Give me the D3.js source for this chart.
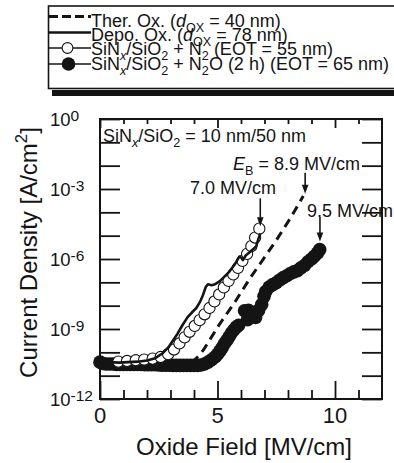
<!DOCTYPE html>
<html>
<head>
<meta charset="utf-8">
<script src="https://cdn.jsdelivr.net/npm/d3@7"></script>
<style>
  html, body { margin: 0; padding: 0; background: #fff; }
  svg { display: block; }
  text { font-family: "Liberation Sans", Arial, Helvetica, sans-serif; fill: #141414; }
</style>
</head>
<body>
<svg id="chart" width="394" height="463"></svg>
<script>
// Oxide field in MV/cm; current density given as log10(J [A/cm^2]).

// Thermal oxide, d_OX = 40 nm (dashed)
const therField = [3.9, 4.25, 4.4, 5.05, 5.75, 6.4, 6.85, 7.5, 8.1, 8.65];
const therLogJ  = [-10.45, -10.1, -9.9, -8.85, -7.83, -6.8, -6.15, -5.2, -4.25, -3.3];

// Deposited oxide, d_OX = 78 nm (solid)
const depoField = [0, 0.4, 0.8, 1.2, 1.6, 2.0, 2.35, 2.65, 2.9, 3.1, 3.3, 3.5, 3.72, 3.95, 4.1, 4.25,
                   4.38, 4.5, 4.6, 4.75, 4.9, 5.1, 5.25, 5.5, 5.72, 5.93, 6.02, 6.08, 6.2, 6.38, 6.55,
                   6.65, 6.72, 6.82];
const depoLogJ  = [-10.45, -10.42, -10.44, -10.42, -10.4, -10.35, -10.25, -10.05, -9.8, -9.5, -9.2,
                   -8.85, -8.5, -8.25, -8.1, -7.85, -7.55, -7.2, -7.08, -7.12, -7.08, -6.95, -6.8,
                   -6.55, -6.25, -5.9, -5.95, -6.05, -5.85, -5.7, -5.55, -5.45, -5.2, -4.9];

// SiNx/SiO2 + N2 anneal, EOT = 55 nm (open circles)
const n2Field = [0.78, 1.15, 1.52, 1.88, 2.24, 2.58, 2.9, 3.15, 3.38, 3.6, 3.81, 4.03, 4.24, 4.45,
                 4.66, 4.87, 5.07, 5.27, 5.47, 5.67, 5.87, 6.06, 6.26, 6.44, 6.6, 6.78];
const n2LogJ  = [-10.4, -10.37, -10.34, -10.31, -10.27, -10.2, -10.08, -9.88, -9.62, -9.36, -9.12,
                 -8.87, -8.62, -8.37, -8.1, -7.82, -7.52, -7.22, -6.94, -6.66, -6.38, -6.08, -5.78,
                 -5.45, -5.08, -4.7];

// SiNx/SiO2 + N2O anneal (2 h), EOT = 65 nm (filled circles)
const n2oField = [0, 0.12, 0.25, 0.4, 0.55, 0.7, 0.85, 1.0, 1.15, 1.3, 1.45, 1.6, 1.75, 1.9, 2.05,
                  2.2, 2.35, 2.5, 2.65, 2.8, 2.95, 3.1, 3.25, 3.4, 3.55, 3.7, 3.85, 4.0, 4.15, 4.3,
                  4.45, 4.6, 4.75, 4.9, 5.0, 5.1, 5.2, 5.3, 5.4, 5.5, 5.6, 5.7, 5.8, 5.9,
                  6.15, 6.28, 6.32, 6.5, 6.62, 6.75, 6.88, 6.98, 7.05, 7.2, 7.35, 7.5, 7.65, 7.8,
                  7.95, 8.1, 8.25, 8.4, 8.55, 8.7, 8.85, 9.0, 9.12, 9.25, 9.35];
const n2oLogJ  = [-10.42, -10.48, -10.5, -10.5, -10.5, -10.52, -10.52, -10.52, -10.52, -10.52,
                  -10.52, -10.52, -10.52, -10.53, -10.53, -10.53, -10.53, -10.54, -10.55, -10.55,
                  -10.55, -10.56, -10.56, -10.56, -10.56, -10.56, -10.56, -10.56, -10.56, -10.54,
                  -10.5, -10.42, -10.32, -10.2, -10.08, -9.95, -9.8, -9.62, -9.48, -9.32, -9.16,
                  -9.03, -8.92, -8.84,
                  -8.22, -8.6, -8.2, -8.4, -8.5, -8.2, -7.95, -7.6, -7.4, -7.2, -7.1, -7.02, -6.9,
                  -6.8, -6.72, -6.62, -6.55, -6.5, -6.38, -6.28, -6.12, -6.0, -5.88, -5.75, -5.6];

// Breakdown fields marked by arrows
const breakdownLabels = ["7.0 MV/cm", "8.9 MV/cm", "9.5 MV/cm"];

// Axis ticks
const xMajorTicks = [0, 5, 10];
const xMinorTicks = [1, 2, 3, 4, 6, 7, 8, 9, 11];
const yDecadeTicks = [0, -1, -2, -3, -4, -5, -6, -7, -8, -9, -10, -11, -12];
const yLabelExps = [0, -3, -6, -9, -12];

const svg = d3.select("#chart");
const ink = "#141414";

const plot = { left: 100, right: 382, top: 119, bottom: 399 };
const x = d3.scaleLinear().domain([0, 12]).range([plot.left, plot.right]);
const y = d3.scaleLinear().domain([-12, 0]).range([plot.bottom, plot.top]);

// Text with italic / subscript / superscript runs
function rich(textSel, parts, size) {
  let shift = 0;
  parts.forEach(p => {
    const part = typeof p === "string" ? { t: p } : p;
    const target = part.sub ? size * 0.28 : part.sup ? -size * 0.42 : 0;
    const ts = textSel.append("tspan").attr("dy", target - shift).text(part.t);
    shift = target;
    if (part.sub || part.sup) ts.attr("font-size", size * 0.7);
    if (part.i) ts.attr("font-style", "italic");
  });
  return textSel;
}

// ---------- Legend ----------
const lg = svg.append("g");
lg.append("rect").attr("x", 52).attr("y", 90).attr("width", 350).attr("height", 6).attr("fill", ink);
lg.append("rect").attr("x", 48.5).attr("y", 6).attr("width", 360).attr("height", 82.5)
  .attr("fill", "#fff").attr("stroke", ink).attr("stroke-width", 1.6);

const legendFont = 18;
const legendRows = [
  { kind: "dash", sy: 16.5, by: 26.5,
    parts: ["Ther. Ox. (", { t: "d", i: true }, { t: "OX", sub: true }, " = 40 nm)"] },
  { kind: "line", sy: 32.5, by: 41,
    parts: ["Depo. Ox. (", { t: "d", i: true }, { t: "OX", sub: true }, " = 78 nm)"] },
  { kind: "open", sy: 48, by: 55,
    parts: ["SiN", { t: "x", sub: true, i: true }, "/SiO", { t: "2", sub: true }, " + N", { t: "2", sub: true }, " (EOT = 55 nm)"] },
  { kind: "filled", sy: 64, by: 70,
    parts: ["SiN", { t: "x", sub: true, i: true }, "/SiO", { t: "2", sub: true }, " + N", { t: "2", sub: true }, "O (2 h) (EOT = 65 nm)"] }
];

legendRows.forEach(r => {
  const ln = lg.append("line").attr("x1", 49).attr("x2", 91).attr("y1", r.sy).attr("y2", r.sy)
    .attr("stroke", ink);
  if (r.kind === "dash") ln.attr("stroke-width", 3).attr("stroke-dasharray", "9,4");
  else if (r.kind === "line") ln.attr("stroke-width", 2.6);
  else ln.attr("stroke-width", 1.3);
  if (r.kind === "open") {
    lg.append("circle").attr("cx", 67.5).attr("cy", r.sy).attr("r", 5.4)
      .attr("fill", "#fff").attr("stroke", ink).attr("stroke-width", 1.1);
  } else if (r.kind === "filled") {
    lg.append("circle").attr("cx", 68.5).attr("cy", r.sy).attr("r", 6.8).attr("fill", ink);
  }
  const t = lg.append("text").attr("x", 91).attr("y", r.by).attr("font-size", legendFont);
  rich(t, r.parts, legendFont);
});

// ---------- Axes frame and ticks ----------
const axes = svg.append("g");

function styleAxis(g) {
  g.select(".domain").remove();
  g.selectAll(".tick line").attr("stroke", ink).attr("stroke-width", 1.8);
  g.selectAll(".tick text").remove();
}

axes.append("g").attr("transform", `translate(0,${plot.bottom})`)
  .call(d3.axisBottom(x).tickValues(xMajorTicks).tickSize(-18)).call(styleAxis);
axes.append("g").attr("transform", `translate(0,${plot.bottom})`)
  .call(d3.axisBottom(x).tickValues(xMinorTicks).tickSize(-9)).call(styleAxis);
axes.append("g").attr("transform", `translate(0,${plot.top})`)
  .call(d3.axisTop(x).tickValues(xMajorTicks).tickSize(-9)).call(styleAxis);
axes.append("g").attr("transform", `translate(0,${plot.top})`)
  .call(d3.axisTop(x).tickValues(xMinorTicks).tickSize(-5)).call(styleAxis);
axes.append("g").attr("transform", `translate(${plot.left},0)`)
  .call(d3.axisLeft(y).tickValues(yDecadeTicks).tickSize(-20)).call(styleAxis);
axes.append("g").attr("transform", `translate(${plot.right},0)`)
  .call(d3.axisRight(y).tickValues(yDecadeTicks).tickSize(-20)).call(styleAxis);

axes.append("rect").attr("x", plot.left).attr("y", plot.top)
  .attr("width", plot.right - plot.left).attr("height", plot.bottom - plot.top)
  .attr("fill", "none").attr("stroke", ink).attr("stroke-width", 2);

// Tick labels
svg.append("g").selectAll("text").data(xMajorTicks).join("text")
  .attr("x", d => x(d)).attr("y", 423).attr("text-anchor", "middle")
  .attr("font-size", 22).text(d => d);

yLabelExps.forEach(e => {
  const t = svg.append("text").attr("x", 50).attr("y", y(e) + 6.5).attr("font-size", 18.5);
  t.append("tspan").text("10");
  t.append("tspan").attr("dy", -5).attr("font-size", 15.5).text(e);
});

// Axis titles
svg.append("text").attr("x", 244).attr("y", 455).attr("text-anchor", "middle")
  .attr("font-size", 24).text("Oxide Field [MV/cm]");
rich(svg.append("text").attr("transform", "translate(37,252.5) rotate(-90)")
  .attr("text-anchor", "middle").attr("font-size", 24),
  ["Current Density [A/cm", { t: "2", sup: true }, "]"], 24);

// ---------- Data ----------
const marks = svg.append("g");
const line = d3.line().x(d => x(d[0])).y(d => y(d[1]));

marks.append("path").datum(d3.zip(therField, therLogJ)).attr("d", line)
  .attr("fill", "none").attr("stroke", ink).attr("stroke-width", 3).attr("stroke-dasharray", "9,6");

marks.append("g").selectAll("circle").data(d3.zip(n2oField, n2oLogJ)).join("circle")
  .attr("cx", d => x(d[0])).attr("cy", d => y(d[1])).attr("r", 6.8).attr("fill", ink);

marks.append("g").selectAll("circle").data(d3.zip(n2Field, n2LogJ)).join("circle")
  .attr("cx", d => x(d[0])).attr("cy", d => y(d[1])).attr("r", 5.6)
  .attr("fill", "#fff").attr("stroke", ink).attr("stroke-width", 1.1);

marks.append("path").datum(d3.zip(depoField, depoLogJ)).attr("d", line)
  .attr("fill", "none").attr("stroke", ink).attr("stroke-width", 2.6).attr("stroke-linejoin", "round");

// ---------- Annotations ----------
const annFont = 18;
const ann = svg.append("g");
rich(ann.append("text").attr("x", 103).attr("y", 142).attr("font-size", annFont),
  ["SiN", { t: "x", sub: true, i: true }, "/SiO", { t: "2", sub: true }, " = 10 nm/50 nm"], annFont);

rich(ann.append("text").attr("x", 360).attr("y", 169.5).attr("text-anchor", "end").attr("font-size", annFont),
  [{ t: "E", i: true }, { t: "B", sub: true }, " = " + breakdownLabels[1]], annFont);
ann.append("text").attr("x", 233).attr("y", 193.5).attr("text-anchor", "middle")
  .attr("font-size", annFont).text(breakdownLabels[0]);
ann.append("text").attr("x", 307).attr("y", 217).attr("font-size", annFont).text(breakdownLabels[2]);

// Arrows pointing at breakdown points
const arrows = [
  { fx: 6.82, from: -3.4, to: -4.6 },
  { fx: 8.73, from: -2.3, to: -3.2 },
  { fx: 9.36, from: -4.2, to: -5.25 }
];
arrows.forEach(a => {
  const ax = x(a.fx), y0 = y(a.from), y1 = y(a.to);
  ann.append("line").attr("x1", ax).attr("x2", ax).attr("y1", y0).attr("y2", y1 - 7)
    .attr("stroke", ink).attr("stroke-width", 1.6);
  ann.append("path").attr("d", `M${ax - 3.3},${y1 - 9} L${ax + 3.3},${y1 - 9} L${ax},${y1} Z`)
    .attr("fill", ink);
});
</script>
</body>
</html>
